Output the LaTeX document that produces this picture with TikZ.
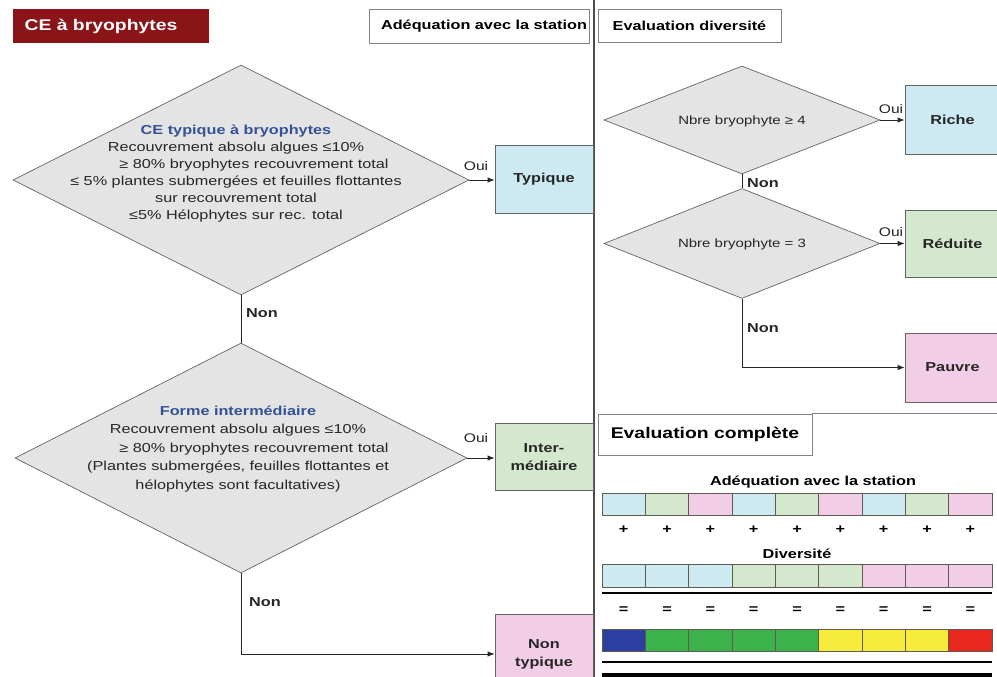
\documentclass[tikz,border=0pt]{standalone}
\usepackage{fontspec}
\setmainfont[FakeStretch=1.25]{Liberation Sans}
\usetikzlibrary{shapes.geometric,arrows.meta}
\definecolor{cblue}{RGB}{205,233,242}
\definecolor{cgreen}{RGB}{212,232,205}
\definecolor{cpink}{RGB}{241,205,230}
\definecolor{dgray}{RGB}{228,228,228}
\definecolor{titred}{RGB}{138,20,24}
\definecolor{txtblue}{RGB}{52,82,150}
\definecolor{sdblue}{RGB}{44,63,160}
\definecolor{sgreen}{RGB}{59,178,74}
\definecolor{syellow}{RGB}{246,236,60}
\definecolor{sred}{RGB}{232,40,30}
\definecolor{edge}{RGB}{100,100,100}
\definecolor{celledge}{RGB}{95,90,80}
\begin{document}
\begin{tikzpicture}[x=1pt,y=-1pt,
  every node/.style={inner sep=0pt},
  dia/.style={diamond, draw=edge, fill=dgray, line width=0.7pt},
  dtext/.style={align=center, font=\fontsize{13}{17}\selectfont, text=black!85},
  res/.style={rectangle, draw=edge, line width=0.8pt, align=center,
    font=\fontsize{13}{18}\selectfont\bfseries, text=black!85},
  hdr/.style={rectangle, draw=edge!80, line width=0.8pt, fill=white,
    font=\fontsize{13}{15}\selectfont\bfseries},
  arr/.style={-{Latex[length=7pt,width=5.5pt]}, line width=0.9pt, draw=black!85},
  conn/.style={line width=0.9pt, draw=black!85},
  lbl/.style={font=\fontsize{12.5}{14}\selectfont, text=black!85},
  nonl/.style={font=\fontsize{13}{15}\selectfont\bfseries, text=black!85},
  cell/.style={rectangle, draw=celledge, line width=1pt, minimum width=43.333pt},
  pm/.style={font=\fontsize{13}{15}\selectfont\bfseries}
]
\clip (0,0) rectangle (997,677);
\fill[white] (0,0) rectangle (997,677);

% separator
\draw[line width=1.1pt, draw=black!70] (594,0) -- (594,677);

% headers
\node[fill=titred, text=white, font=\fontsize{15.5}{17}\selectfont\bfseries,
  minimum width=196pt, minimum height=34pt] (title) at (111,26) {CE à bryophytes\hspace*{20pt}};
\node[hdr, minimum width=220pt, minimum height=34pt] (hadeq) at (479,26) {\hspace*{10pt}Adéquation avec la station};
\node[hdr, minimum width=183pt, minimum height=33pt] (hdiv) at (689.5,25.5) {Evaluation diversité};

% left flowchart
\node[dia, minimum width=456pt, minimum height=230pt] (d1) at (241,180) {};
\node[dtext] (t1) at (236,174) {{\color{txtblue}\bfseries CE typique à bryophytes}\\
Recouvrement absolu algues ≤10\%\\
\hspace*{36pt}≥ 80\% bryophytes recouvrement total\\
≤ 5\% plantes submergées et feuilles flottantes\\
sur recouvrement total\\
≤5\% Hélophytes sur rec. total};
\node[res, fill=cblue, minimum width=98pt, minimum height=68pt] (typ) at (544,179) {Typique};

\node[dia, minimum width=452pt, minimum height=230pt] (d2) at (241,458) {};
\node[dtext, font=\fontsize{13}{18.5}\selectfont] (t2) at (238,449) {{\color{txtblue}\bfseries Forme intermédiaire}\\
Recouvrement absolu algues ≤10\%\\
\hspace*{32pt}≥ 80\% bryophytes recouvrement total\\
(Plantes submergées, feuilles flottantes et\\
hélophytes sont facultatives)};
\node[res, fill=cgreen, minimum width=98pt, minimum height=67pt] (inter) at (544,457) {Inter-\\médiaire};
\node[res, fill=cpink, minimum width=98pt, minimum height=80pt] (ntyp) at (544,654) {Non\\typique};

\draw[arr] (d1.east) -- (d1.east -| typ.west);
\draw[conn] (d1.south) -- (d2.north);
\draw[arr] (d2.east) -- (d2.east -| inter.west);
\draw[arr] (d2.south) |- (ntyp.west);

\node[lbl] (oui1) at (476,166) {Oui};
\node[nonl] (non1) at (262,313) {Non};
\node[lbl] (oui2) at (476,438) {Oui};
\node[nonl] (non2) at (265,602) {Non};

% right flowchart
\node[dia, minimum width=276pt, minimum height=108pt] (d3) at (742,120) {};
\node[dtext, font=\fontsize{12}{14}\selectfont] (t3) at (742,121) {Nbre bryophyte ≥ 4};
\node[res, fill=cblue, minimum width=95pt, minimum height=69pt] (riche) at (952.5,120) {Riche};

\node[dia, minimum width=276pt, minimum height=110pt] (d4) at (742,243.5) {};
\node[dtext, font=\fontsize{12}{14}\selectfont] (t4) at (742,244) {Nbre bryophyte = 3};
\node[res, fill=cgreen, minimum width=95pt, minimum height=67pt] (red) at (952.5,243.5) {Réduite};
\node[res, fill=cpink, minimum width=95pt, minimum height=69pt] (pauvre) at (952.5,367.5) {Pauvre};

\draw[arr] (d3.east) -- (d3.east -| riche.west);
\draw[conn] (d3.south) -- (d4.north);
\draw[arr] (d4.east) -- (d4.east -| red.west);
\draw[arr] (d4.south) |- (pauvre.west);

\node[lbl] (oui3) at (891,109) {Oui};
\node[nonl] (non3) at (763,183) {Non};
\node[lbl] (oui4) at (891,232) {Oui};
\node[nonl] (non4) at (763,328) {Non};

% evaluation complete
\node[hdr, font=\fontsize{15.5}{17}\selectfont\bfseries, minimum width=214pt, minimum height=41pt] (hcomp) at (705,434.5) {Evaluation complète};
\draw[line width=0.8pt, draw=edge!80] (hcomp.north east) -- ++(200,0);

\node[pm] (sadeq) at (813,482) {Adéquation avec la station};
\node[pm] (sdiv) at (797,554) {Diversité};

\foreach \i/\ca/\cb/\cc in {1/cblue/cblue/sdblue, 2/cgreen/cblue/sgreen, 3/cpink/cblue/sgreen,
  4/cblue/cgreen/sgreen, 5/cgreen/cgreen/sgreen, 6/cpink/cgreen/syellow,
  7/cblue/cpink/syellow, 8/cgreen/cpink/syellow, 9/cpink/cpink/sred} {
  \pgfmathsetmacro\cx{602+43.333*(\i-0.5)}
  \node[cell, fill=\ca, minimum height=22pt] (a\i) at (\cx,504) {};
  \node[pm] (p\i) at (\cx,530) {+};
  \node[cell, fill=\cb, minimum height=23pt] (b\i) at (\cx,575.5) {};
  \node[pm] (e\i) at (\cx,610) {=};
  \node[cell, fill=\cc, minimum height=22pt] (c\i) at (\cx,640) {};
}
\draw[line width=2.5pt] (602,593) -- (992,593);
\draw[line width=1.2pt] (602,662) -- (992,662);
\fill[black] (602,673) rectangle (992,682);
\end{tikzpicture}
\end{document}
